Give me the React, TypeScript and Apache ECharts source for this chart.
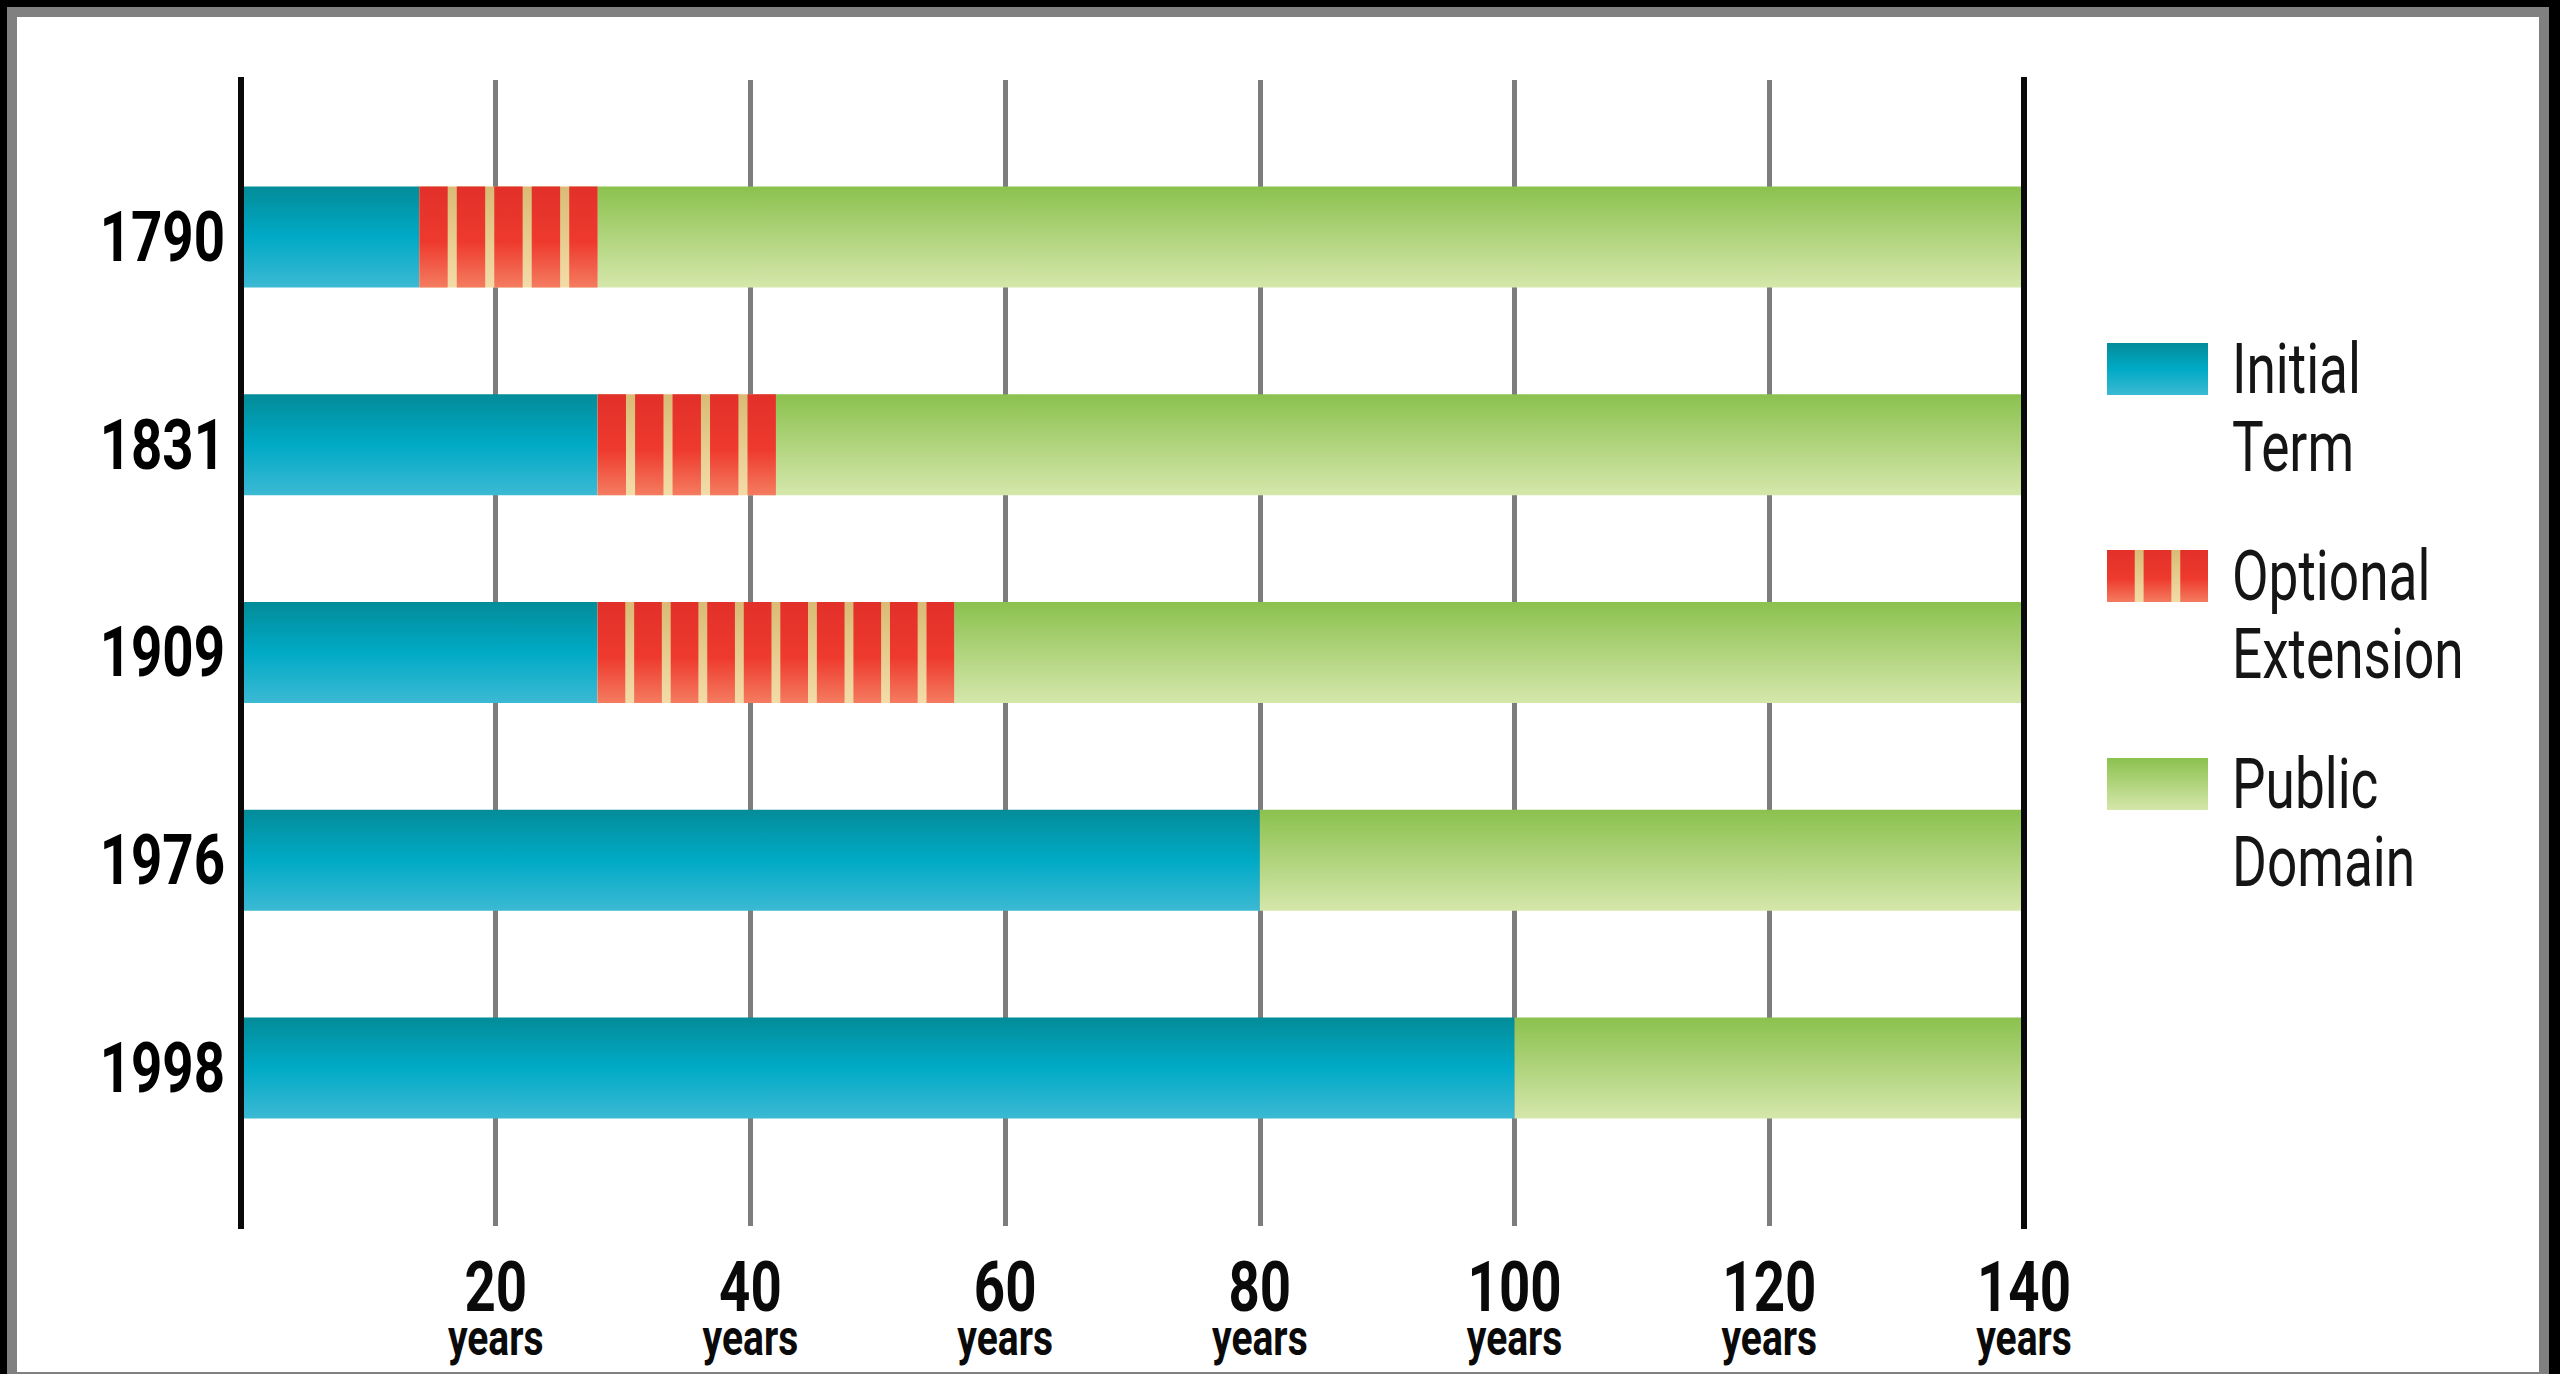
import React, { useEffect, useRef } from "react";
import * as echarts from "echarts";

// ---- data ----
const years = ["1790", "1831", "1909", "1976", "1998"];
const initialTerm = [14, 28, 28, 80, 100];
const optionalExtension = [14, 14, 28, 0, 0];
const publicDomain = [112, 98, 84, 60, 40];
const xTickValues = [0, 20, 40, 60, 80, 100, 120, 140];
const xUnit = "years";
const legendNames = ["Initial\nTerm", "Optional\nExtension", "Public\nDomain"];
const stripePeriodYears = 2.8;

// ---- style ----
const FONT = "Roboto, 'Liberation Sans', sans-serif";
const NARROW = 0.78; // horizontal squeeze to imitate a condensed face
const BAR_RATIO = 0.486;
const teal = { type: "linear", x: 0, y: 0, x2: 0, y2: 1, colorStops: [
  { offset: 0, color: "#038c99" }, { offset: 0.5, color: "#00aac6" }, { offset: 1, color: "#3cb9d3" } ] };
const green = { type: "linear", x: 0, y: 0, x2: 0, y2: 1, colorStops: [
  { offset: 0, color: "#8bc14e" }, { offset: 1, color: "#d5e7ab" } ] };
const tan = { type: "linear", x: 0, y: 0, x2: 0, y2: 1, colorStops: [
  { offset: 0, color: "#d9bb74" }, { offset: 1, color: "#f3dca8" } ] };
const red = { type: "linear", x: 0, y: 0, x2: 0, y2: 1, colorStops: [
  { offset: 0, color: "#e2302a" }, { offset: 0.55, color: "#ee3a2e" }, { offset: 1, color: "#f47c60" } ] };

const GRID_LEFT = 241;
const GRID_RIGHT_X = 2024;

export default function App() {
  const ref = useRef<HTMLDivElement>(null);
  useEffect(() => {
    document.body.style.margin = "0";
    const chart = echarts.init(ref.current!, null, { renderer: "svg" });
    const xMin = xTickValues[0];
    const xMax = xTickValues[xTickValues.length - 1];
    const xInterval = xTickValues[1] - xTickValues[0];
    const extData = years
      .map((_, i) => [i, initialTerm[i], initialTerm[i] + optionalExtension[i]])
      .filter((d) => d[2] > d[1]);

    const swatchX = 2107, swatchW = 101, swatchH = 52;
    const legendY = [343, 550, 758];
    const legendGraphics: any[] = [];
    legendGraphics.push({ type: "rect", shape: { x: swatchX, y: legendY[0], width: swatchW, height: swatchH }, style: { fill: teal } });
    legendGraphics.push({ type: "rect", shape: { x: swatchX, y: legendY[1], width: swatchW, height: swatchH }, style: { fill: tan } });
    const rw = swatchW / (3 + 0.32 * 2);
    for (let i = 0; i < 3; i++) {
      legendGraphics.push({ type: "rect", shape: { x: swatchX + i * rw * 1.32, y: legendY[1], width: rw, height: swatchH }, style: { fill: red } });
    }
    legendGraphics.push({ type: "rect", shape: { x: swatchX, y: legendY[2], width: swatchW, height: swatchH }, style: { fill: green } });
    legendNames.forEach((name, i) => {
      legendGraphics.push({
        type: "text",
        x: 2232,
        y: legendY[i] + swatchH / 2 - 39,
        scaleX: 0.76,
        style: { text: name, fontSize: 70, fontFamily: FONT, lineHeight: 78, fill: "#151515", verticalAlign: "top", align: "left" },
      });
    });

    chart.setOption({
      animation: false,
      backgroundColor: "transparent",
      graphic: legendGraphics,
      grid: [
        { left: GRID_LEFT, width: GRID_RIGHT_X - GRID_LEFT, top: 80, height: 1146, containLabel: false },
        { left: GRID_LEFT, width: GRID_RIGHT_X - GRID_LEFT, top: 133, height: 1039, containLabel: false },
      ],
      xAxis: [
        {
          type: "value", gridIndex: 0, min: xMin, max: xMax, interval: xInterval, z: 0,
          axisLine: { show: false }, axisTick: { show: false }, axisLabel: { show: false },
          splitLine: { show: true, lineStyle: { color: "#7d7d7d", width: 5 } },
        },
        { type: "value", gridIndex: 1, min: xMin, max: xMax, interval: xInterval, show: false, splitLine: { show: false } },
      ],
      yAxis: [
        { type: "value", gridIndex: 0, position: "left", min: 0, max: 1, z: 6,
          axisLine: { show: true, lineStyle: { color: "#0a0a0a", width: 6, cap: "square" } },
          axisTick: { show: false }, axisLabel: { show: false }, splitLine: { show: false } },
        { type: "value", gridIndex: 0, position: "right", min: 0, max: 1, z: 6,
          axisLine: { show: true, lineStyle: { color: "#0a0a0a", width: 6, cap: "square" } },
          axisTick: { show: false }, axisLabel: { show: false }, splitLine: { show: false } },
        { type: "category", gridIndex: 1, data: years, inverse: true,
          axisLine: { show: false }, axisTick: { show: false }, splitLine: { show: false },
          axisLabel: { show: false } },
      ],
      series: [
        { name: "Initial Term", type: "bar", stack: "t", xAxisIndex: 1, yAxisIndex: 2, barWidth: BAR_RATIO * 100 + "%",
          data: initialTerm, itemStyle: { color: teal }, z: 3 },
        { name: "Optional Extension", type: "bar", stack: "t", xAxisIndex: 1, yAxisIndex: 2, barWidth: BAR_RATIO * 100 + "%",
          data: optionalExtension, itemStyle: { color: tan }, z: 3 },
        { name: "Public Domain", type: "bar", stack: "t", xAxisIndex: 1, yAxisIndex: 2, barWidth: BAR_RATIO * 100 + "%",
          data: publicDomain, itemStyle: { color: green }, z: 3 },
        {
          name: "Optional Extension stripes", type: "custom", xAxisIndex: 1, yAxisIndex: 2, z: 4,
          encode: { x: [1, 2], y: 0 },
          data: extData,
          renderItem: (params: any, api: any) => {
            const cat = api.value(0), s = api.value(1), e = api.value(2);
            const p0 = api.coord([s, cat]);
            const p1 = api.coord([e, cat]);
            const h = api.size([0, 1])[1] * BAR_RATIO;
            const W = p1[0] - p0[0];
            const n = Math.max(1, Math.round((e - s) / stripePeriodYears));
            const gr = 0.32;
            const r = W / (n + gr * (n - 1));
            const children: any[] = [];
            for (let i = 0; i < n; i++) {
              children.push({ type: "rect", shape: { x: p0[0] + i * r * (1 + gr), y: p0[1] - h / 2, width: r, height: h }, style: { fill: red } });
            }
            return { type: "group", children };
          },
        },
        {
          name: "year labels", type: "custom", xAxisIndex: 1, yAxisIndex: 2, z: 8, silent: true,
          encode: { x: 0, y: 1 },
          data: years.map((_, i) => [0, i]),
          renderItem: (params: any, api: any) => {
            const p = api.coord([api.value(0), api.value(1)]);
            return {
              type: "text", x: p[0] - 16, y: p[1], scaleX: NARROW,
              style: { text: years[params.dataIndex], fontSize: 70, fontWeight: "bold", fontFamily: FONT, fill: "#000", align: "right", verticalAlign: "middle" },
            };
          },
        },
        {
          name: "tick labels", type: "custom", xAxisIndex: 0, yAxisIndex: 0, z: 8, silent: true,
          encode: { x: 0, y: 1 },
          data: xTickValues.filter((v) => v > xMin).map((v) => [v, 0]),
          renderItem: (params: any, api: any) => {
            const v = api.value(0);
            const p = api.coord([v, 0]);
            return {
              type: "group",
              children: [
                { type: "text", x: p[0], y: p[1] + 61, scaleX: NARROW,
                  style: { text: String(v), fontSize: 70, fontWeight: "bold", fontFamily: FONT, fill: "#0a0a0a", align: "center", verticalAlign: "middle" } },
                { type: "text", x: p[0], y: p[1] + 112, scaleX: NARROW,
                  style: { text: xUnit, fontSize: 50, fontWeight: "bold", fontFamily: FONT, fill: "#0a0a0a", align: "center", verticalAlign: "middle" } },
              ],
            };
          },
        },
      ],
    });
    return () => chart.dispose();
  }, []);

  return (
    <div style={{ position: "fixed", left: 0, top: 0, width: 2560, height: 1374, background: "#000", overflow: "hidden" }}>
      <div style={{ position: "absolute", left: 7, top: 7, width: 2542, height: 1375, boxSizing: "border-box", border: "10px solid #808080", background: "#fff" }} />
      <div ref={ref} style={{ position: "absolute", left: 0, top: 0, width: 2560, height: 1374 }} />
    </div>
  );
}
